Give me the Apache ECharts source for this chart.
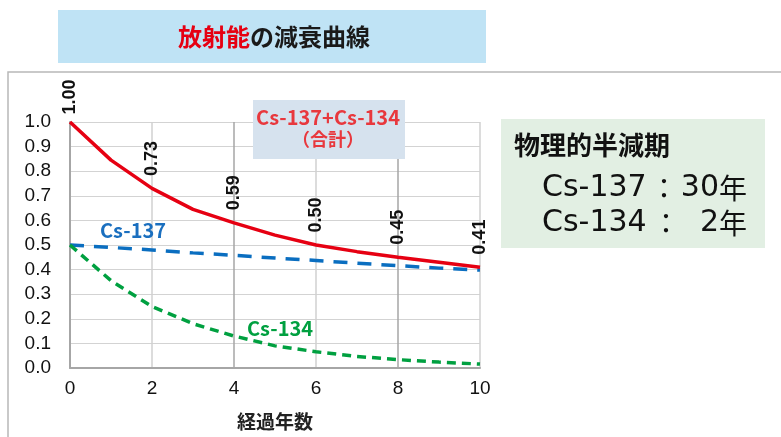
<!DOCTYPE html>
<html>
<head>
<meta charset="utf-8">
<script src="https://cdn.jsdelivr.net/npm/echarts@6/dist/echarts.min.js"></script>
<style>
  html, body { margin: 0; padding: 0; background: #ffffff; }
  #chart { width: 781px; height: 437px; }
</style>
</head>
<body>
<div id="chart"></div>
<script>
// Years elapsed
const years = [0, 1, 2, 3, 4, 5, 6, 7, 8, 9, 10];
// Relative activity (initial total = 1.0)
const totalValues = [1.00, 0.845, 0.73, 0.645, 0.59, 0.54, 0.50, 0.473, 0.45, 0.43, 0.41];
const cs137Values = [0.50, 0.49, 0.48, 0.468, 0.458, 0.447, 0.437, 0.426, 0.416, 0.406, 0.398];
const cs134Values = [0.50, 0.355, 0.25, 0.18, 0.13, 0.09, 0.066, 0.047, 0.034, 0.024, 0.016];
// Years at which the total is annotated
const labeledYears = [0, 2, 4, 6, 8, 10];
const yTicks = [0.0, 0.1, 0.2, 0.3, 0.4, 0.5, 0.6, 0.7, 0.8, 0.9, 1.0];

const JP = '"Noto Sans CJK JP", "Noto Sans", sans-serif';
const NUM = '"Liberation Sans", Arial, sans-serif';
const WIDE = '"DejaVu Sans", "Liberation Sans", sans-serif';

const chart = echarts.init(document.getElementById('chart'), null, { renderer: 'canvas' });

const pairs = (vals) => years.map((x, i) => [x, vals[i]]);

const totalData = years.map((x, i) => {
  const item = { value: [x, totalValues[i]] };
  if (labeledYears.includes(x)) {
    item.label = {
      show: true,
      formatter: totalValues[i].toFixed(2),
      distance: x === 0 ? 7 : 12
    };
  }
  return item;
});

chart.setOption({
  animation: false,
  backgroundColor: '#ffffff',
  grid: { left: 70, right: 301, top: 122, bottom: 69, containLabel: false },
  xAxis: {
    type: 'value',
    min: 0, max: 10, interval: 2,
    name: '経過年数',
    nameLocation: 'middle',
    nameGap: 44,
    nameTextStyle: { fontFamily: JP, fontSize: 19, fontWeight: 'bold', color: '#222' },
    axisLine: { show: true, lineStyle: { color: '#a6a6a6', width: 2 } },
    axisTick: { show: false },
    axisLabel: { fontFamily: NUM, fontSize: 19, color: '#111', margin: 11 },
    splitLine: { show: true, lineStyle: { color: ['#a6a6a6', '#d0d0d0', '#a6a6a6', '#d0d0d0', '#a6a6a6', '#d0d0d0'], width: 1.5 } }
  },
  yAxis: {
    type: 'value',
    min: 0, max: 1, interval: 0.1,
    axisLine: { show: true, lineStyle: { color: '#a6a6a6', width: 2 } },
    axisTick: { show: false },
    axisLabel: {
      fontFamily: NUM, fontSize: 19, color: '#111', margin: 19,
      formatter: (v) => {
        const t = yTicks.find(k => Math.abs(k - v) < 1e-6);
        return (t !== undefined ? t : v).toFixed(1);
      }
    },
    splitLine: { show: true, lineStyle: { color: '#d3d3d3', width: 1 } }
  },
  series: [
    {
      name: 'Cs-137',
      type: 'line',
      data: pairs(cs137Values),
      showSymbol: false,
      lineStyle: { color: '#0a6ec0', width: 3.5, type: [14, 10] },
      z: 2
    },
    {
      name: 'Cs-134',
      type: 'line',
      data: pairs(cs134Values),
      showSymbol: false,
      lineStyle: { color: '#00a040', width: 3.5, type: [9, 6] },
      z: 2
    },
    {
      name: 'Cs-137+Cs-134',
      type: 'line',
      data: totalData,
      showSymbol: true,
      symbol: 'circle',
      symbolSize: 1,
      itemStyle: { color: 'rgba(0,0,0,0)' },
      lineStyle: { color: '#e60012', width: 3.5 },
      label: {
        show: false,
        position: 'top',
        rotate: 90,
        align: 'left',
        verticalAlign: 'middle',
        fontFamily: NUM,
        fontSize: 18,
        fontWeight: 'bold',
        color: '#111'
      },
      labelLayout: { hideOverlap: false },
      z: 3
    }
  ],
  graphic: [
    // frame around the plot area
    {
      type: 'rect', z: -10, silent: true,
      shape: { x: 8, y: 72, width: 800, height: 400 },
      style: { fill: 'none', stroke: '#b8b8b8', lineWidth: 1.5 }
    },
    // title banner
    {
      type: 'rect', z: 10, silent: true,
      shape: { x: 58, y: 10, width: 428, height: 53 },
      style: { fill: '#bfe3f5' }
    },
    {
      type: 'text', z: 11, silent: true,
      x: 274, y: 37,
      style: {
        text: '{r|放射能}{k|の減衰曲線}',
        align: 'center', verticalAlign: 'middle',
        rich: {
          r: { fontFamily: JP, fontSize: 24, fontWeight: 'bold', fill: '#e60012' },
          k: { fontFamily: JP, fontSize: 24, fontWeight: 'bold', fill: '#1a1a1a' }
        }
      }
    },
    // total curve caption
    {
      type: 'rect', z: 10, silent: true,
      shape: { x: 253, y: 100, width: 152, height: 59 },
      style: { fill: '#d6e2ee' }
    },
    {
      type: 'text', z: 11, silent: true,
      x: 328, y: 117,
      style: {
        text: 'Cs-137+Cs-134', align: 'center', verticalAlign: 'middle',
        fontFamily: JP, fontSize: 20, fontWeight: 'bold', fill: '#e8383d'
      }
    },
    {
      type: 'text', z: 11, silent: true,
      x: 328, y: 139,
      style: {
        text: '（合計）', align: 'center', verticalAlign: 'middle',
        fontFamily: JP, fontSize: 18, fontWeight: 'bold', fill: '#e8383d'
      }
    },
    // series captions
    {
      type: 'text', z: 11, silent: true,
      x: 100, y: 230,
      style: {
        text: 'Cs-137', align: 'left', verticalAlign: 'middle',
        fontFamily: JP, fontSize: 20, fontWeight: 'bold', fill: '#1a6fbf'
      }
    },
    {
      type: 'text', z: 11, silent: true,
      x: 247, y: 328,
      style: {
        text: 'Cs-134', align: 'left', verticalAlign: 'middle',
        fontFamily: JP, fontSize: 20, fontWeight: 'bold', fill: '#00a040'
      }
    },
    // half-life box
    {
      type: 'rect', z: 10, silent: true,
      shape: { x: 501, y: 119, width: 264, height: 129 },
      style: { fill: '#e2efe3' }
    },
    {
      type: 'text', z: 11, silent: true,
      x: 514, y: 145,
      style: {
        text: '物理的半減期', align: 'left', verticalAlign: 'middle',
        fontFamily: JP, fontSize: 26, fontWeight: 'bold', fill: '#111'
      }
    },
    // Cs-137 half-life row
    {
      type: 'text', z: 11, silent: true, x: 542, y: 188,
      style: { text: 'Cs-137', align: 'left', verticalAlign: 'middle', fontFamily: WIDE, fontSize: 30, fill: '#111' }
    },
    {
      type: 'text', z: 11, silent: true, x: 664, y: 188,
      style: { text: '：', align: 'center', verticalAlign: 'middle', fontFamily: JP, fontSize: 28, fill: '#111' }
    },
    {
      type: 'text', z: 11, silent: true, x: 747, y: 188,
      style: {
        text: '{n|30}{k|年}', align: 'right', verticalAlign: 'middle',
        rich: {
          n: { fontFamily: WIDE, fontSize: 30, fill: '#111' },
          k: { fontFamily: JP, fontSize: 28, fill: '#111' }
        }
      }
    },
    // Cs-134 half-life row
    {
      type: 'text', z: 11, silent: true, x: 542, y: 223,
      style: { text: 'Cs-134', align: 'left', verticalAlign: 'middle', fontFamily: WIDE, fontSize: 30, fill: '#111' }
    },
    {
      type: 'text', z: 11, silent: true, x: 666, y: 223,
      style: { text: '：', align: 'center', verticalAlign: 'middle', fontFamily: JP, fontSize: 28, fill: '#111' }
    },
    {
      type: 'text', z: 11, silent: true, x: 747, y: 223,
      style: {
        text: '{n|2}{k|年}', align: 'right', verticalAlign: 'middle',
        rich: {
          n: { fontFamily: WIDE, fontSize: 30, fill: '#111' },
          k: { fontFamily: JP, fontSize: 28, fill: '#111' }
        }
      }
    }
  ]
});
</script>
</body>
</html>
